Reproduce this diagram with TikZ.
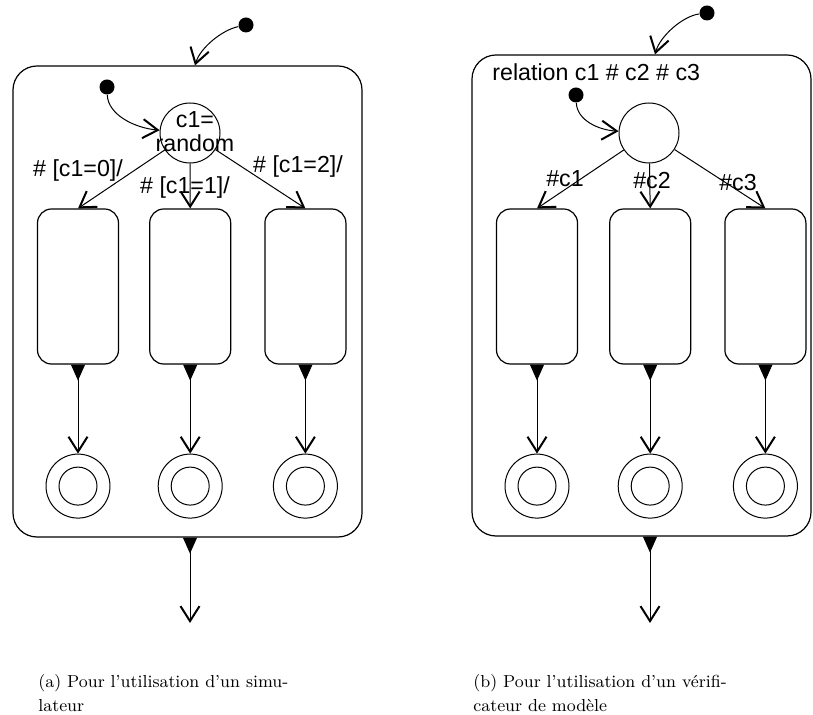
\documentclass[tikz,border=0pt]{standalone}
\usepackage{fontspec}
\newfontfamily\diagfont{Liberation Sans}
\usetikzlibrary{arrows.meta, positioning}
\definecolor{ink}{HTML}{000000}
\tikzset{
  cbox/.style={draw=ink, rounded corners=12pt, line width=0.6pt, inner sep=0pt},
  sbox/.style={draw=ink, rounded corners=7pt, line width=0.6pt, inner sep=0pt,
               minimum width=40.5pt, minimum height=77.5pt},
  init/.style={circle, fill=ink, inner sep=0pt, minimum size=7.5pt},
  chc/.style={circle, draw=ink, line width=0.5pt, inner sep=0pt, minimum size=30pt},
  fin/.style={circle, draw=ink, line width=0.5pt, inner sep=0pt, minimum size=32pt,
              path picture={\draw[line width=0.5pt] (path picture bounding box.center) circle (9.5pt);}},
  tr/.style={-{Straight Barb[length=7.5pt, width=9.5pt, line width=1pt]}, line width=0.5pt, draw=ink},
  ex/.style={{Triangle[reversed, length=8pt, width=7pt]}-{Straight Barb[length=7.5pt, width=9.5pt, line width=1pt]},
             line width=0.5pt, draw=ink},
  lbl/.style={font=\diagfont\fontsize{11.6}{12}\selectfont, inner sep=0pt, text=ink, align=center},
  captext/.style={font=\fontsize{8.7}{12}\selectfont, align=left, inner sep=0pt, anchor=north west},
}
\begin{document}
\begin{tikzpicture}[x=0.5pt, y=-0.5pt]
  \useasboundingbox (0,0) rectangle (813,715);
  % (a) simulateur
  \node[cbox, minimum width=174.5pt, minimum height=235.5pt] (sa) at (187.5,301.5) {};
  \node[init] (ia) at (246,25) {};
  \node[init] (ja) at (107,87) {};
  \node[chc] (cha) at (190,133) {};
  \node[lbl] (cht) at (195,132) {c1=\\random};
  \node[sbox] (a1) at (78,286.5) {};
  \node[sbox, right=15pt of a1] (a2) {};
  \node[sbox, right=16.5pt of a2] (a3) {};
  \node[fin, below=44.5pt of a1] (fa1) {};
  \node[fin, below=44.5pt of a2] (fa2) {};
  \node[fin, below=44.5pt of a3] (fa3) {};
  \node[lbl] (la1) at (78,171) {\# [c1=0]/};
  \node[lbl] (la2) at (185,188) {\# [c1=1]/};
  \node[lbl] (la3) at (298,167) {\# [c1=2]/};
  \coordinate (oa) at (190,623);
  \draw[tr] (ia) .. controls (222,30) and (200,48) .. ([xshift=3.75pt]sa.north);
  \draw[tr] (ja) .. controls (108,115) and (135,128) .. (cha);
  \draw[tr] (cha) -- (a1.north);
  \draw[tr] (cha) -- (a2.north);
  \draw[tr] (cha) -- (a3.north);
  \draw[ex] (a1.south) -- (fa1.north);
  \draw[ex] (a2.south) -- (fa2.north);
  \draw[ex] (a3.south) -- (fa3.north);
  \draw[ex] (oa |- sa.south) -- (oa);
  % (b) verificateur de modele
  \node[cbox, minimum width=169.5pt, minimum height=240.5pt] (sb) at (641.5,295.5) {};
  \node[lbl, anchor=west] (rel) at (492,72) {relation c1 \# c2 \# c3};
  \node[init] (ib) at (707,13) {};
  \node[init] (jb) at (576,95) {};
  \node[chc] (chb) at (649,133) {};
  \node[sbox] (b1) at (537,286.5) {};
  \node[sbox, right=15.5pt of b1] (b2) {};
  \node[sbox, right=16.5pt of b2] (b3) {};
  \node[fin, below=44.5pt of b1] (fb1) {};
  \node[fin, below=44.5pt of b2] (fb2) {};
  \node[fin, below=44.5pt of b3] (fb3) {};
  \node[lbl] (lb1) at (565,179) {\#c1};
  \node[lbl] (lb2) at (652,181) {\#c2};
  \node[lbl] (lb3) at (738,183) {\#c3};
  \coordinate (ob) at (650,623);
  \draw[tr] (ib) .. controls (683,16) and (660,36) .. ([xshift=6.75pt]sb.north);
  \draw[tr] (jb) .. controls (577,120) and (598,130) .. (chb);
  \draw[tr] (chb) -- (b1.north);
  \draw[tr] (chb) -- (b2.north);
  \draw[tr] (chb) -- (b3.north);
  \draw[ex] (b1.south) -- (fb1.north);
  \draw[ex] (b2.south) -- (fb2.north);
  \draw[ex] (b3.south) -- (fb3.north);
  \draw[ex] (ob |- sb.south) -- (ob);
  % captions
  \node[captext] (capa) at (38,674) {(a) Pour l'utilisation d'un simu-\\lateur};
  \node[captext] (capb) at (473,674) {(b) Pour l'utilisation d'un vérifi-\\cateur de modèle};
\end{tikzpicture}
\end{document}
